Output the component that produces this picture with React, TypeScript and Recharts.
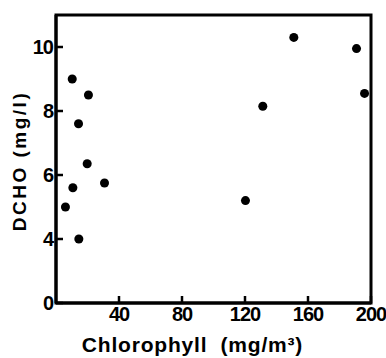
import React from "react";
import {
  ScatterChart,
  Scatter,
  XAxis,
  YAxis,
  ZAxis,
  ReferenceArea,
} from "recharts";

// chlorophyll (mg/m3) vs DCHO (mg/l)
const chlorophyll = [6, 10.7, 10.3, 14.3, 14.5, 20.6, 19.8, 30.8, 120.3, 131.3, 151, 190.8, 195.9];
const dcho = [5.0, 5.6, 9.0, 7.6, 4.0, 8.5, 6.35, 5.75, 5.2, 8.15, 10.3, 9.95, 8.55];

const xTicks = [40, 80, 120, 160, 200];
// the y axis is broken: the bottom tick is printed as "0"
const yTicks = [2, 4, 6, 8, 10];
const yTickLabels = ["0", "4", "6", "8", "10"];

const points = chlorophyll.map((x, i) => ({ x, y: dcho[i] }));

const FONT = "'Liberation Sans', Arial, sans-serif";

const tickStyle = {
  fontFamily: FONT,
  fontWeight: "bold",
  fontSize: 20,
  fill: "#000",
  letterSpacing: -1,
};

export default function App() {
  return (
    <div style={{ position: "absolute", left: 0, top: 0, background: "#fff" }}>
      <ScatterChart
        width={386}
        height={358}
        margin={{ top: 15, right: 15, bottom: 0, left: 0 }}
      >
        <XAxis
          type="number"
          dataKey="x"
          domain={[0, 200]}
          ticks={xTicks}
          tick={tickStyle}
          tickLine={{ stroke: "#000", strokeWidth: 2.5 }}
          tickSize={-7}
          tickMargin={11}
          height={55}
          axisLine={{ stroke: "#000", strokeWidth: 3 }}
          label={{
            content: ({ viewBox }: any) => (
              <text
                x={viewBox.x + viewBox.width / 2 - 21}
                y={viewBox.y + 49}
                textAnchor="middle"
                fontFamily={FONT}
                fontWeight="bold"
                fontSize={21}
                letterSpacing={0.8}
                fill="#000"
                style={{ whiteSpace: "pre" }}
              >
                {"Chlorophyll  (mg/m³)"}
              </text>
            ),
          }}
        />
        <YAxis
          type="number"
          dataKey="y"
          domain={[2, 11]}
          ticks={yTicks}
          tickFormatter={(v: number) => yTickLabels[yTicks.indexOf(v)]}
          tick={tickStyle}
          tickLine={{ stroke: "#000", strokeWidth: 2.5 }}
          tickSize={-7}
          tickMargin={10}
          width={56}
          axisLine={{ stroke: "#000", strokeWidth: 3 }}
          label={{
            content: ({ viewBox }: any) => {
              const cx = 19;
              const cy = viewBox.y + viewBox.height / 2 + 2;
              return (
                <text
                  x={cx}
                  y={cy}
                  dy="0.36em"
                  textAnchor="middle"
                  transform={`rotate(-90, ${cx}, ${cy})`}
                  fontFamily={FONT}
                  fontWeight="bold"
                  fontSize={19}
                  letterSpacing={2.5}
                  fill="#000"
                >
                  DCHO (mg/l)
                </text>
              );
            },
          }}
        />
        <ZAxis range={[70, 70]} />
        <ReferenceArea
          x1={0}
          x2={200}
          y1={2}
          y2={11}
          fill="none"
          stroke="#000"
          strokeWidth={3}
          ifOverflow="visible"
        />
        <Scatter data={points} fill="#000" isAnimationActive={false} />
      </ScatterChart>
    </div>
  );
}
